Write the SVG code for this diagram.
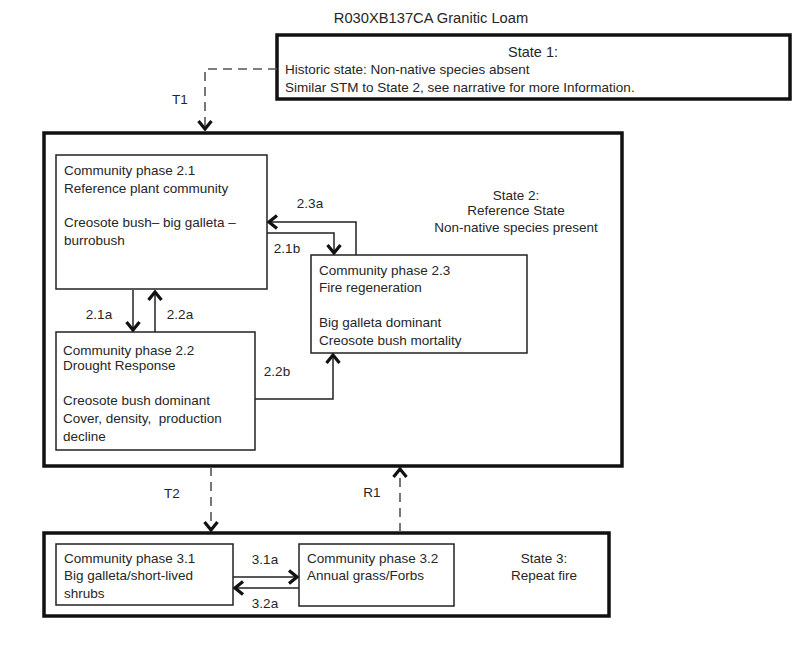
<svg xmlns="http://www.w3.org/2000/svg" width="800" height="666" viewBox="0 0 800 666">
<defs>
<style>
text{font-family:"Liberation Sans",Arial,sans-serif;font-size:13.5px;fill:#262626;white-space:pre}
.c{text-anchor:middle}
.state{fill:#fff;stroke:#111;stroke-width:3.5}
.phase{fill:#fff;stroke:#222;stroke-width:1.5}
.conn{fill:none;stroke:#222;stroke-width:1.5}
.dash{fill:none;stroke:#555;stroke-width:1.6;stroke-dasharray:9,6}
</style>
<marker id="ah" markerUnits="userSpaceOnUse" viewBox="-11 -9 13 18" markerWidth="13" markerHeight="18" refX="0" refY="0" orient="auto">
<path d="M-8,-6.5 L0,0 L-8,6.5" fill="none" stroke="#111" stroke-width="3.2" stroke-linejoin="miter"/>
</marker>
</defs>
<rect width="800" height="666" fill="#fff"/>
<text class="c" x="431" y="23" style="font-size:14.7px">R030XB137CA Granitic Loam</text>

<g id="state1">
<rect class="state" x="277" y="35" width="513" height="64"/>
<text class="c" x="533" y="57" style="font-size:14.5px">State 1:</text>
<text x="285" y="74">Historic state: Non-native species absent</text>
<text x="285" y="92">Similar STM to State 2, see narrative for more Information.</text>
</g>

<g id="state2">
<rect class="state" x="44" y="133" width="578" height="333"/>
<text class="c" x="516" y="200">State 2:</text>
<text class="c" x="516" y="215">Reference State</text>
<text class="c" x="516" y="232">Non-native species present</text>
</g>

<g id="state3">
<rect class="state" x="44" y="533" width="565" height="83"/>
<text class="c" x="544" y="563">State 3:</text>
<text class="c" x="544" y="580">Repeat fire</text>
</g>

<g id="phase21">
<rect class="phase" x="56" y="155" width="211" height="134"/>
<text x="64" y="175">Community phase 2.1</text>
<text x="64" y="193">Reference plant community</text>
<text x="64" y="227">Creosote bush– big galleta –</text>
<text x="64" y="245">burrobush</text>
</g>

<g id="phase23">
<rect class="phase" x="311" y="255" width="216" height="98"/>
<text x="319" y="275">Community phase 2.3</text>
<text x="319" y="292">Fire regeneration</text>
<text x="319" y="327">Big galleta dominant</text>
<text x="319" y="345">Creosote bush mortality</text>
</g>

<g id="phase22">
<rect class="phase" x="56" y="332" width="199" height="118"/>
<text x="63" y="355">Community phase 2.2</text>
<text x="63" y="370">Drought Response</text>
<text x="63" y="405">Creosote bush dominant</text>
<text x="63" y="423" xml:space="preserve">Cover, density,  production</text>
<text x="63" y="441">decline</text>
</g>

<g id="phase31">
<rect class="phase" x="56" y="544" width="177" height="61"/>
<text x="64" y="563">Community phase 3.1</text>
<text x="64" y="580">Big galleta/short-lived</text>
<text x="64" y="598">shrubs</text>
</g>

<g id="phase32">
<rect class="phase" x="299" y="544" width="155" height="62"/>
<text x="307" y="563">Community phase 3.2</text>
<text x="307" y="580">Annual grass/Forbs</text>
</g>

<g id="connectors">
<path class="dash" d="M277,69 H205 V129" marker-end="url(#ah)"/>
<text class="c" x="180" y="104">T1</text>
<path class="conn" d="M133,290 V330" marker-end="url(#ah)"/>
<text class="c" x="99" y="319">2.1a</text>
<path class="conn" d="M155,332 V292" marker-end="url(#ah)"/>
<text class="c" x="180" y="319">2.2a</text>
<path class="conn" d="M267,233 H334 V253" marker-end="url(#ah)"/>
<text class="c" x="287" y="253">2.1b</text>
<path class="conn" d="M356,255 V222 H269" marker-end="url(#ah)"/>
<text class="c" x="310" y="208">2.3a</text>
<path class="conn" d="M255,399 H333 V355" marker-end="url(#ah)"/>
<text class="c" x="277" y="376">2.2b</text>
<path class="dash" d="M211,467 V530" marker-end="url(#ah)"/>
<text class="c" x="172" y="498">T2</text>
<path class="dash" d="M400,532 V469" marker-end="url(#ah)"/>
<text class="c" x="372" y="497">R1</text>
<path class="conn" d="M233,577 H297" marker-end="url(#ah)"/>
<text class="c" x="265" y="564">3.1a</text>
<path class="conn" d="M299,588 H235" marker-end="url(#ah)"/>
<text class="c" x="265" y="608">3.2a</text>
</g>
</svg>
